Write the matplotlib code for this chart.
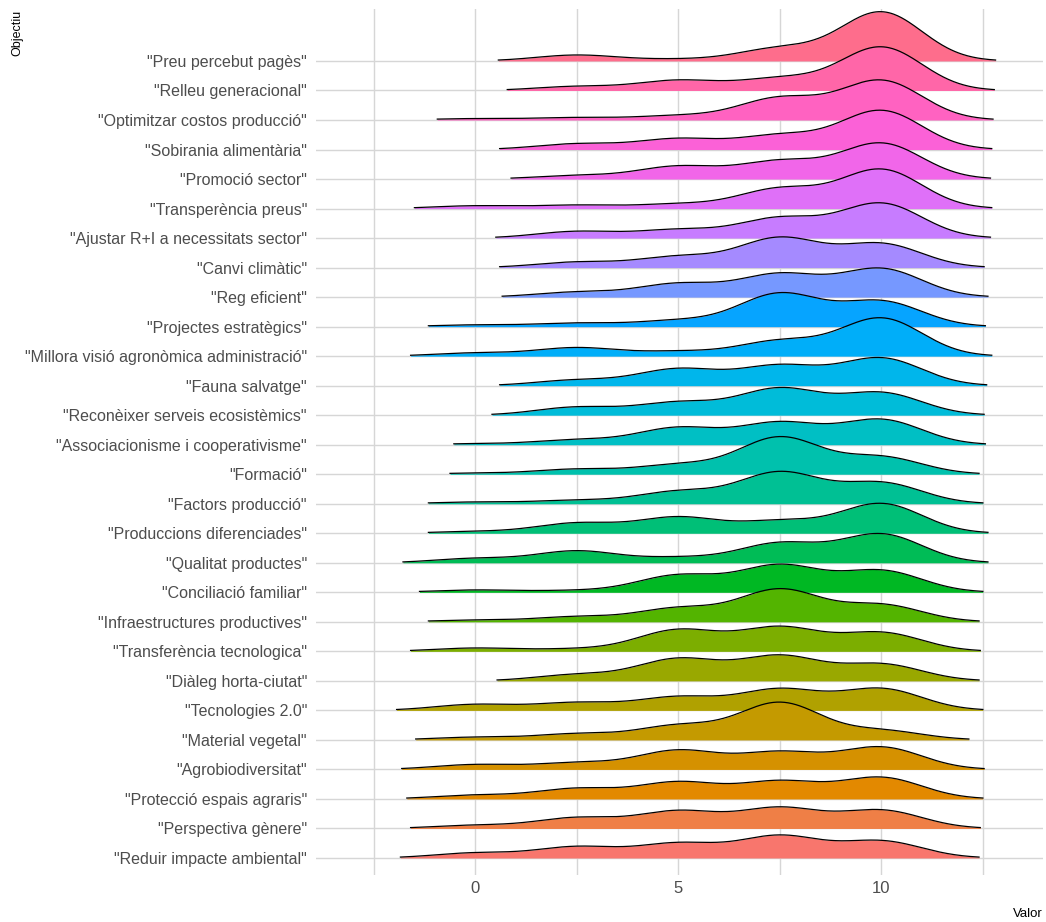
import numpy as np
import matplotlib.pyplot as plt

# objectius, de baix a dalt de l'eix y
objectius = [
    '"Reduir impacte ambiental"', '"Perspectiva gènere"', '"Protecció espais agraris"',
    '"Agrobiodiversitat"', '"Material vegetal"', '"Tecnologies 2.0"',
    '"Diàleg horta-ciutat"', '"Transferència tecnologica"', '"Infraestructures productives"',
    '"Conciliació familiar"', '"Qualitat productes"', '"Produccions diferenciades"',
    '"Factors producció"', '"Formació"', '"Associacionisme i cooperativisme"',
    '"Reconèixer serveis ecosistèmics"', '"Fauna salvatge"',
    '"Millora visió agronòmica administració"', '"Projectes estratègics"',
    '"Reg eficient"', '"Canvi climàtic"', '"Ajustar R+I a necessitats sector"',
    '"Transperència preus"', '"Promoció sector"', '"Sobirania alimentària"',
    '"Optimitzar costos producció"', '"Relleu generacional"', '"Preu percebut pagès"',
]

# puntuacions possibles i % de respostes per objectiu (mateix ordre)
valors = [0, 2.5, 5, 7.5, 10]
pct_0 = [7.3, 4.6, 5.5, 7.0, 3.9, 8.6, 0, 4.8, 2.5, 3.4, 6.3, 2.5, 2.5, 1.5,
         1.4, 0, 0, 4.6, 2.5, 0, 0, 0, 4.0, 0, 0, 2.0, 0, 0]
pct_25 = [16.0, 15.3, 14.8, 9.4, 8.7, 11.0, 9.0, 3.4, 7.3, 2.5, 17.1, 14.6, 4.9, 7.3,
          7.0, 11.6, 8.1, 12.2, 5.1, 7.2, 7.9, 9.6, 4.9, 5.0, 8.2, 3.5, 5.8, 8.6]
pct_5 = [20.8, 24.7, 23.9, 27.2, 20.4, 19.1, 31.5, 30.8, 19.4, 24.4, 7.3, 23.0, 17.5, 13.5,
         24.3, 18.2, 23.9, 6.6, 8.7, 19.2, 15.6, 11.9, 6.4, 18.2, 15.4, 6.1, 14.5, 2.4]
pct_75 = [31.6, 29.3, 24.9, 24.4, 53.4, 30.1, 35.5, 34.2, 46.3, 38.5, 28.1, 17.1, 45.0, 53.1,
          31.3, 38.1, 28.4, 21.8, 47.5, 32.8, 42.4, 28.6, 28.4, 25.3, 20.2, 31.6, 17.0, 18.2]
pct_10 = [24.3, 26.1, 30.8, 32.0, 13.5, 31.1, 24.0, 26.8, 24.4, 31.0, 41.3, 42.8, 30.0, 24.7,
          36.0, 32.1, 39.6, 54.9, 36.3, 40.8, 34.1, 50.0, 56.3, 51.5, 56.2, 56.9, 62.8, 70.7]


def hcl_color(h, c=100, l=65):
    # HCL (polarLUV) -> sRGB, com hue_pal() de ggplot2
    hr = np.deg2rad(h)
    U, V = c * np.cos(hr), c * np.sin(hr)
    Xn, Yn, Zn = 95.047, 100.0, 108.883
    Y = Yn * ((l + 16) / 116) ** 3
    t = Xn + 15 * Yn + 3 * Zn
    u = U / (13 * l) + 4 * Xn / t
    v = V / (13 * l) + 9 * Yn / t
    X = 9 * Y * u / (4 * v)
    Z = -X / 3 - 5 * Y + 3 * Y / v
    X, Y, Z = X / 100, Y / 100, Z / 100
    rgb = [3.240479 * X - 1.537150 * Y - 0.498535 * Z,
           -0.969256 * X + 1.875992 * Y + 0.041556 * Z,
           0.055648 * X - 0.204043 * Y + 1.057311 * Z]
    out = []
    for q in rgb:
        q = 12.92 * q if q <= 0.0031308 else 1.055 * q ** (1 / 2.4) - 0.055
        out.append(min(max(q, 0), 1))
    return tuple(out)


n = len(objectius)
colors = [hcl_color(hh) for hh in np.linspace(15, 375, n + 1)[:-1]]

# densitat (kernel gaussià, amplada de banda conjunta = 1)
bw = 1.0
xs = np.linspace(-3, 13, 512)
dens = []
for i in range(n):
    w = np.array([pct_0[i], pct_25[i], pct_5[i], pct_75[i], pct_10[i]])
    w = w / w.sum()
    d = np.zeros_like(xs)
    for val, wi in zip(valors, w):
        d += wi * np.exp(-0.5 * ((xs - val) / bw) ** 2) / (bw * np.sqrt(2 * np.pi))
    dens.append(d)
dmax = max(d.max() for d in dens)
scale = 1.67
rel_min_height = 0.018

fig = plt.figure(figsize=(10.46, 9.22), dpi=100)
ax = fig.add_axes([0.3021, 0.05098, 0.69503, 0.93926])

for i in range(n - 1, -1, -1):
    base = i + 1
    d = dens[i]
    keep = np.where(d >= rel_min_height * dmax)[0]
    sl = slice(keep[0], keep[-1] + 1)
    h = d[sl] / dmax * scale
    z = 10 + (n - i) * 2
    ax.fill_between(xs[sl], base, base + h, color=colors[i], lw=0, zorder=z)
    ax.plot(xs[sl], base + h, color='black', lw=0.9, zorder=z + 1)

ax.set_xlim(-3.92, 13.98)
ax.set_ylim(0.424, 29.76)
ax.set_xticks([0, 5, 10])
ax.set_xticks([-2.5, 2.5, 7.5, 12.5], minor=True)
ax.set_yticks(range(1, n + 1))
ax.set_yticklabels(objectius)
ax.grid(True, which='both', color='#d6d6d6', lw=1.0)
ax.set_axisbelow(True)
for s in ax.spines.values():
    s.set_visible(False)

lab_font = ['Liberation Sans', 'DejaVu Sans']
ax.tick_params(which='both', length=0)
ax.tick_params(axis='y', pad=6.5, labelsize=11.5, labelcolor='#4d4d4d')
ax.tick_params(axis='x', pad=4.5, labelsize=12, labelcolor='#4d4d4d')
for t in ax.get_xticklabels() + ax.get_yticklabels():
    t.set_family(lab_font)

fig.text(17 / 1046, 1 - 10 / 922, 'Objectiu', rotation=90, ha='center', va='top',
         fontsize=9, color='black', family=lab_font)
fig.text(1043 / 1046, 1 - 914 / 922, 'Valor', ha='right', va='center',
         fontsize=9.5, color='black', family=lab_font)

fig.savefig('out.png', dpi=100)
